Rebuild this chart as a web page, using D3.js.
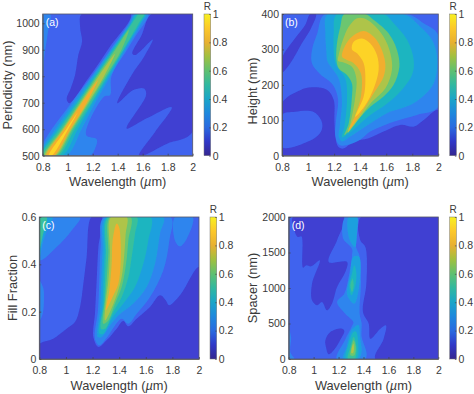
<!DOCTYPE html>
<html>
<head>
<meta charset="utf-8">
<script src="https://cdn.jsdelivr.net/npm/d3@7"></script>
<style>
  html, body { margin: 0; padding: 0; background: #fff; }
  text { font-family: "Liberation Sans", Arial, sans-serif; fill: #3a3a3a; }
</style>
</head>
<body>
<div id="chart"></div>
<script>
// band colours, one per 0.1 step of R
const bandColors = ["#3f3fd2", "#3f63ee", "#2f85ee", "#1fa0de", "#1fb5c0", "#38c09c", "#6cc66f", "#aec44a", "#f2ae2e", "#fdd325"];
const colorbarStops = ["#35268f", "#3038c8", "#2a6ae0", "#1e88dd", "#1aa5c8", "#30b8a0", "#5fc070", "#a0c040", "#e8b030", "#fcc82a", "#f8f020"];

const wavelengthTicks = [0.8, 1, 1.2, 1.4, 1.6, 1.8, 2];
const colorbarTicks = [0, 0.2, 0.4, 0.6, 0.8, 1];
const periodTicks = [500, 600, 700, 800, 900, 1000];
const heightTicks = [0, 100, 200, 300, 400];
const fillTicks = [0, 0.2, 0.4, 0.6];
const spacerTicks = [0, 500, 1000, 1500, 2000];

// contour outlines, [wavelength, y value]
// panel a: periodicity
const aDarkLeft = [[1.112,1035],[1.099,987],[1.115,931],[1.085,880],[1.059,805],[1.024,754],[0.992,714],[1.013,698],[1.165,792],[1.339,912],[1.504,1035]];
const aDarkRight = [[1.672,1035],[1.592,956],[1.517,886],[1.539,880],[1.68,939],[1.611,874],[1.512,805],[1.397,698],[1.525,748],[1.611,754],[1.627,729],[1.472,603],[1.632,641],[1.832,683],[1.7,590],[1.57,500],[1.6,500],[1.79,544],[2,590],[2,1035]];
const aCorner = [[0.8,1035],[0.86,1035],[0.84,960],[0.815,880],[0.8,790]];
const aBand2 = [[0.8,500],[0.8,540],[1.03,700],[1.19,800],[1.34,900],[1.49,1000],[1.53,1035],[1.645,1035],[1.54,950],[1.475,900],[1.35,800],[1.339,729],[1.29,723],[1.147,578],[1.232,562],[1.22,528],[1.178,500]];
const aBand3 = [[0.78,500],[0.9,600],[1.05,700],[1.2,800],[1.35,900],[1.5,1000],[1.54,1035],[1.63,1035],[1.59,1000],[1.46,900],[1.34,800],[1.22,700],[1.11,600],[0.99,500]];
const aBand4 = [[0.79,500],[0.92,600],[1.07,700],[1.215,800],[1.36,900],[1.508,1000],[1.552,1035],[1.62,1035],[1.58,1000],[1.45,900],[1.325,800],[1.2,700],[1.08,600],[0.955,500]];
const aBand5 = [[0.795,500],[0.935,600],[1.08,700],[1.225,800],[1.37,900],[1.516,1000],[1.57,1035],[1.61,1035],[1.568,1000],[1.445,900],[1.315,800],[1.19,700],[1.056,600],[0.925,500]];
const aBand6 = [[0.81,500],[0.951,600],[1.093,700],[1.234,800],[1.381,900],[1.488,975],[1.431,900],[1.304,800],[1.173,700],[1.041,600],[0.91,500]];
const aBand7 = [[0.82,500],[0.961,600],[1.103,700],[1.247,800],[1.378,885],[1.291,800],[1.163,700],[1.031,600],[0.9,500]];
const aBand8 = [[0.83,500],[0.97,600],[1.113,700],[1.242,785],[1.153,700],[1.022,600],[0.89,500]];
const aBand9 = [[0.848,500],[0.988,600],[1.078,662],[1.004,600],[0.872,500]];

// panel b: height
const bDarkStripe = [[1.017,400],[0.979,370],[0.902,332],[0.8,275],[0.8,235],[0.864,261],[0.954,318],[1.023,360],[1.061,400]];
const bDarkLow = [[0.8,148],[0.94,185],[1.03,193],[1.145,186],[1.197,157],[1.202,100],[1.21,54],[1.23,26],[1.27,20],[1.35,40],[1.465,49],[1.58,68],[1.708,87],[1.81,82],[1.888,101],[2,129],[2,0],[0.8,0]];
const bIsland = [[0.8,115],[0.9,124],[1.04,124],[1.1,101],[1.11,82],[1.09,63],[1,40],[0.8,24]];
const bBand2 = [[1.13,400],[1.07,344],[1.03,298],[1.03,260],[1.09,231],[1.19,200],[1.23,160],[1.215,100],[1.21,55],[1.24,30],[1.3,30],[1.4,45],[1.478,68],[1.657,96],[1.836,115],[2,138],[2,341],[1.887,374],[1.76,400]];
const bBand3 = [[1.15,400],[1.133,345],[1.14,298],[1.15,265],[1.184,247],[1.235,218],[1.26,157],[1.243,82],[1.235,54],[1.26,40],[1.325,54],[1.478,91],[1.606,120],[1.81,148],[1.964,204],[1.99,280],[1.951,327],[1.862,364],[1.734,400]];
const bBand5 = [[1.222,400],[1.197,345],[1.197,298],[1.204,270],[1.222,251],[1.286,218],[1.299,157],[1.279,82],[1.261,52],[1.312,63],[1.478,115],[1.593,143],[1.683,171],[1.798,228],[1.811,270],[1.76,327],[1.657,374],[1.58,400]];
const bBand6 = [[1.279,400],[1.248,364],[1.222,317],[1.217,275],[1.235,247],[1.299,228],[1.337,204],[1.337,167],[1.312,91],[1.279,58],[1.337,82],[1.478,138],[1.58,167],[1.657,200],[1.701,251],[1.683,298],[1.619,345],[1.504,383],[1.44,400]];
const bBand7 = [[1.376,388],[1.312,364],[1.268,327],[1.235,284],[1.23,268],[1.273,263],[1.337,251],[1.371,218],[1.363,167],[1.325,91],[1.304,65],[1.363,91],[1.491,152],[1.593,190],[1.644,242],[1.632,289],[1.58,336],[1.491,374],[1.427,388]];
const bBand8 = [[1.427,352],[1.337,336],[1.286,312],[1.261,279],[1.299,270],[1.35,261],[1.406,232],[1.406,167],[1.363,115],[1.312,72],[1.389,110],[1.504,176],[1.58,223],[1.593,261],[1.555,308],[1.504,336]];
const bBand9 = [[1.414,331],[1.35,322],[1.337,300],[1.376,289],[1.427,261],[1.44,214],[1.427,167],[1.363,110],[1.44,143],[1.504,190],[1.542,242],[1.529,284],[1.478,317]];

// panel c: fill fraction
const cDark = [[0.8,0.062],[0.905,0.086],[1.005,0.128],[1.068,0.156],[1.106,0.22],[1.131,0.318],[1.156,0.431],[1.193,0.6],[1.269,0.6],[1.244,0.473],[1.231,0.332],[1.218,0.191],[1.206,0.093],[1.244,0.051],[1.306,0.079],[1.381,0.128],[1.431,0.161],[1.469,0.138],[1.532,0.17],[1.632,0.22],[1.707,0.269],[1.75,0.248],[1.775,0.227],[1.857,0.269],[2,0.389],[2,0],[0.8,0]];
const cTopLeft = [[0.8,0.417],[0.93,0.473],[1.043,0.543],[1.106,0.6],[0.8,0.6]];
const cSliver = [[0.8,0.332],[0.83,0.3],[0.835,0.25],[0.825,0.19],[0.8,0.16]];
const cTopRight = [[1.82,0.6],[1.82,0.5],[1.857,0.476],[1.908,0.508],[1.953,0.6]];
const cTopLeftInner = [[0.8,0.42],[0.83,0.5],[0.87,0.56],[0.9,0.6],[0.8,0.6]];
const cTopLeftCore = [[0.8,0.46],[0.825,0.52],[0.855,0.6],[0.8,0.6]];
const cBand2 = [[1.286,0.6],[1.261,0.473],[1.251,0.332],[1.241,0.206],[1.218,0.086],[1.251,0.058],[1.311,0.093],[1.369,0.142],[1.419,0.17],[1.469,0.149],[1.532,0.191],[1.632,0.262],[1.732,0.375],[1.777,0.501],[1.787,0.6]];
const cBand3 = [[1.301,0.6],[1.276,0.459],[1.266,0.332],[1.256,0.206],[1.239,0.093],[1.269,0.093],[1.331,0.142],[1.394,0.184],[1.507,0.234],[1.607,0.304],[1.67,0.403],[1.707,0.529],[1.732,0.6]];
const cBand4 = [[1.311,0.6],[1.291,0.459],[1.281,0.332],[1.274,0.22],[1.251,0.107],[1.281,0.107],[1.344,0.17],[1.432,0.234],[1.519,0.304],[1.582,0.403],[1.619,0.501],[1.637,0.6]];
const cBand5 = [[1.319,0.6],[1.301,0.445],[1.294,0.332],[1.286,0.234],[1.264,0.128],[1.294,0.128],[1.356,0.199],[1.419,0.262],[1.469,0.346],[1.494,0.431],[1.519,0.529],[1.532,0.6]];
const cBand6 = [[1.331,0.6],[1.319,0.445],[1.306,0.332],[1.294,0.248],[1.281,0.149],[1.319,0.163],[1.369,0.234],[1.419,0.304],[1.452,0.403],[1.469,0.501],[1.487,0.6]];
const cBand7 = [[1.339,0.6],[1.331,0.445],[1.319,0.332],[1.301,0.248],[1.294,0.163],[1.331,0.199],[1.381,0.269],[1.419,0.346],[1.437,0.431],[1.449,0.529],[1.457,0.6]];
const cBand8 = [[1.381,0.572],[1.351,0.501],[1.344,0.403],[1.326,0.29],[1.301,0.206],[1.351,0.262],[1.394,0.318],[1.411,0.403],[1.411,0.501],[1.399,0.558]];

// panel d: spacer
const dDarkLeft = [[0.835,2000],[0.845,1812],[0.872,1718],[0.902,1728],[0.915,1286],[0.942,1319],[0.979,1305],[1.049,1390],[0.987,1061],[0.987,826],[1.027,756],[1.067,803],[1.107,685],[1.147,779],[1.188,1014],[1.254,1225],[1.268,1366],[1.121,1366],[1.188,1671],[1.241,2000]];
const dDarkRight = [[1.38,2000],[1.375,1671],[1.415,1577],[1.423,1061],[1.396,662],[1.442,498],[1.455,286],[1.535,427],[1.58,474],[1.562,286],[1.495,0],[2,0],[2,2000]];
const dDarkIsland = [[1.094,263],[1.134,380],[1.228,427],[1.246,394],[1.209,254],[1.161,122],[1.121,66],[1.099,169]];
const dSliver = [[0.8,427],[0.819,310],[0.813,99],[0.845,0],[0.8,0]];
const dBand2 = [[1.254,2000],[1.236,1700],[1.308,1554],[1.308,1460],[1.281,1155],[1.246,920],[1.188,803],[1.254,639],[1.319,521],[1.305,455],[1.252,268],[1.185,0],[1.412,0],[1.425,80],[1.385,315],[1.385,502],[1.369,639],[1.38,1089],[1.367,1460],[1.34,1577],[1.348,2000]];
const dBand3Top = [[1.281,2000],[1.348,2000],[1.348,1812],[1.332,1577],[1.286,1695]];
const dBand3Mid = [[1.319,1441],[1.364,1441],[1.372,1136],[1.327,779],[1.27,897],[1.292,1183]];
const dBand3Low = [[1.305,408],[1.359,479],[1.372,315],[1.385,103],[1.359,0],[1.238,0],[1.265,174]];
const dBand4Mid = [[1.327,1319],[1.343,1202],[1.332,1014],[1.303,897],[1.286,1038],[1.308,1202]];
const dBand4Low = [[1.319,380],[1.34,385],[1.359,174],[1.345,0],[1.26,0],[1.278,197]];
const dBand5Mid = [[1.313,1132],[1.321,1038],[1.308,944],[1.295,1038]];
const dBand5Low = [[1.321,310],[1.343,169],[1.329,0],[1.276,0],[1.295,169]];
const dBand6Low = [[1.321,263],[1.337,169],[1.327,52],[1.295,52],[1.3,146]];
const dBand7Low = [[1.319,216],[1.324,146],[1.316,85],[1.303,85],[1.308,169]];

// [band index, outline], painted in this order over a band 1 background
const contoursA = [[0,aDarkLeft],[0,aDarkRight],[2,aCorner],[2,aBand2],[3,aBand3],[4,aBand4],[5,aBand5],[6,aBand6],[7,aBand7],[8,aBand8],[9,aBand9]];
const contoursB = [[0,bDarkStripe],[0,bDarkLow],[1,bIsland],[2,bBand2],[3,bBand3],[4,bBand5],[6,bBand6],[7,bBand7],[8,bBand8],[9,bBand9]];
const contoursC = [[0,cDark],[2,cTopLeft],[3,cTopLeftInner],[5,cTopLeftCore],[2,cSliver],[2,cTopRight],[2,cBand2],[3,cBand3],[4,cBand4],[5,cBand5],[6,cBand6],[7,cBand7],[8,cBand8]];
const contoursD = [[0,dDarkLeft],[0,dDarkRight],[2,dSliver],[2,dBand2],[0,dDarkIsland],[3,dBand3Top],[3,dBand3Mid],[3,dBand3Low],[4,dBand4Mid],[4,dBand4Low],[5,dBand5Mid],[5,dBand5Low],[6,dBand6Low],[7,dBand7Low]];

const panels = [
  { tag: "(a)", name: "Periodicity (nm)", contours: contoursA, yDomain: [500, 1035], yTicks: periodTicks,
    left: 42.7, right: 192.7, top: 14, bottom: 155.7, barLeft: 204, titleX: 11.5, titleY: 85, xTitleY: 186 },
  { tag: "(b)", name: "Height (nm)", contours: contoursB, yDomain: [0, 400], yTicks: heightTicks,
    left: 282, right: 438.3, top: 14, bottom: 155.7, barLeft: 449.7, titleX: 257, titleY: 91, xTitleY: 186 },
  { tag: "(c)", name: "Fill Fraction", contours: contoursC, yDomain: [0, 0.6], yTicks: fillTicks,
    left: 39.3, right: 199, top: 217, bottom: 359, barLeft: 210, titleX: 17, titleY: 288, xTitleY: 390 },
  { tag: "(d)", name: "Spacer (nm)", contours: contoursD, yDomain: [0, 2000], yTicks: spacerTicks,
    left: 288.7, right: 438.3, top: 217, bottom: 359, barLeft: 449.7, titleX: 257, titleY: 288, xTitleY: 390 }
];

const svg = d3.select("#chart").append("svg")
  .attr("width", 474)
  .attr("height", 394)
  .style("display", "block");

const defs = svg.append("defs");

const grad = defs.append("linearGradient")
  .attr("id", "parula")
  .attr("x1", 0).attr("y1", 1).attr("x2", 0).attr("y2", 0);
grad.selectAll("stop")
  .data(colorbarStops)
  .join("stop")
  .attr("offset", (d, i) => i / (colorbarStops.length - 1))
  .attr("stop-color", d => d);

// the reference is a soft scan, a small blur takes the hard edge off the bands
defs.append("filter")
  .attr("id", "soft")
  .attr("x", "-5%").attr("y", "-5%").attr("width", "110%").attr("height", "110%")
  .append("feGaussianBlur")
  .attr("stdDeviation", 0.55);

const outline = d3.line().curve(d3.curveCatmullRomClosed.alpha(0.5));

function styleAxis(axisG) {
  axisG.selectAll("text").style("font-size", "10.5px");
  axisG.selectAll("line").attr("stroke", "#444").attr("stroke-width", 0.7);
  axisG.select(".domain").attr("stroke", "#555").attr("stroke-width", 0.8);
}

panels.forEach((p, i) => {
  const x = d3.scaleLinear().domain([0.8, 2]).range([p.left, p.right]);
  const y = d3.scaleLinear().domain(p.yDomain).range([p.bottom, p.top]);

  defs.append("clipPath")
    .attr("id", "plot" + i)
    .append("rect")
    .attr("x", p.left).attr("y", p.top)
    .attr("width", p.right - p.left).attr("height", p.bottom - p.top);

  const plot = svg.append("g").attr("clip-path", `url(#plot${i})`)
    .append("g").attr("filter", "url(#soft)");

  plot.append("rect")
    .attr("x", p.left - 5).attr("y", p.top - 5)
    .attr("width", p.right - p.left + 10).attr("height", p.bottom - p.top + 10)
    .attr("fill", bandColors[1]);

  plot.selectAll("path")
    .data(p.contours)
    .join("path")
    .attr("fill", d => bandColors[d[0]])
    .attr("d", d => outline(d[1].map(pt => [x(pt[0]), y(pt[1])])));

  // box
  svg.append("rect")
    .attr("x", p.left).attr("y", p.top)
    .attr("width", p.right - p.left).attr("height", p.bottom - p.top)
    .attr("fill", "none")
    .attr("stroke", "#556")
    .attr("stroke-width", 0.8);

  const xAxis = svg.append("g")
    .attr("transform", `translate(0,${p.bottom})`)
    .call(d3.axisBottom(x).tickValues(wavelengthTicks).tickFormat(d => d).tickSizeInner(-2).tickSizeOuter(0).tickPadding(8));
  styleAxis(xAxis);

  const yAxis = svg.append("g")
    .attr("transform", `translate(${p.left},0)`)
    .call(d3.axisLeft(y).tickValues(p.yTicks).tickFormat(d => d).tickSizeInner(-2).tickSizeOuter(0).tickPadding(3));
  styleAxis(yAxis);

  svg.append("text")
    .attr("x", (p.left + p.right) / 2)
    .attr("y", p.xTitleY)
    .attr("text-anchor", "middle")
    .style("font-size", "12.8px")
    .call(t => {
      t.append("tspan").text("Wavelength (");
      t.append("tspan").style("font-style", "italic").text("\u00b5");
      t.append("tspan").text("m)");
    });

  svg.append("text")
    .attr("transform", `translate(${p.titleX},${p.titleY}) rotate(-90)`)
    .attr("text-anchor", "middle")
    .style("font-size", "12.8px")
    .text(p.name);

  svg.append("text")
    .attr("x", p.left + 3)
    .attr("y", p.top + 12)
    .style("font-size", "10.5px")
    .style("fill", "#fff")
    .text(p.tag);

  // colorbar
  const barWidth = 6.7;
  const barY = d3.scaleLinear().domain([0, 1]).range([p.bottom, p.top]);
  svg.append("rect")
    .attr("x", p.barLeft).attr("y", p.top)
    .attr("width", barWidth).attr("height", p.bottom - p.top)
    .attr("fill", "url(#parula)")
    .attr("stroke", "#777")
    .attr("stroke-width", 0.5);

  const barAxis = svg.append("g")
    .attr("transform", `translate(${p.barLeft + barWidth},0)`)
    .call(d3.axisRight(barY).tickValues(colorbarTicks).tickFormat(d => d).tickSizeInner(-1.5).tickSizeOuter(0).tickPadding(2));
  styleAxis(barAxis);
  barAxis.select(".domain").remove();

  svg.append("text")
    .attr("x", p.barLeft + barWidth / 2)
    .attr("y", p.top - 4)
    .attr("text-anchor", "middle")
    .style("font-size", "10px")
    .text("R");
});
</script>
</body>
</html>
